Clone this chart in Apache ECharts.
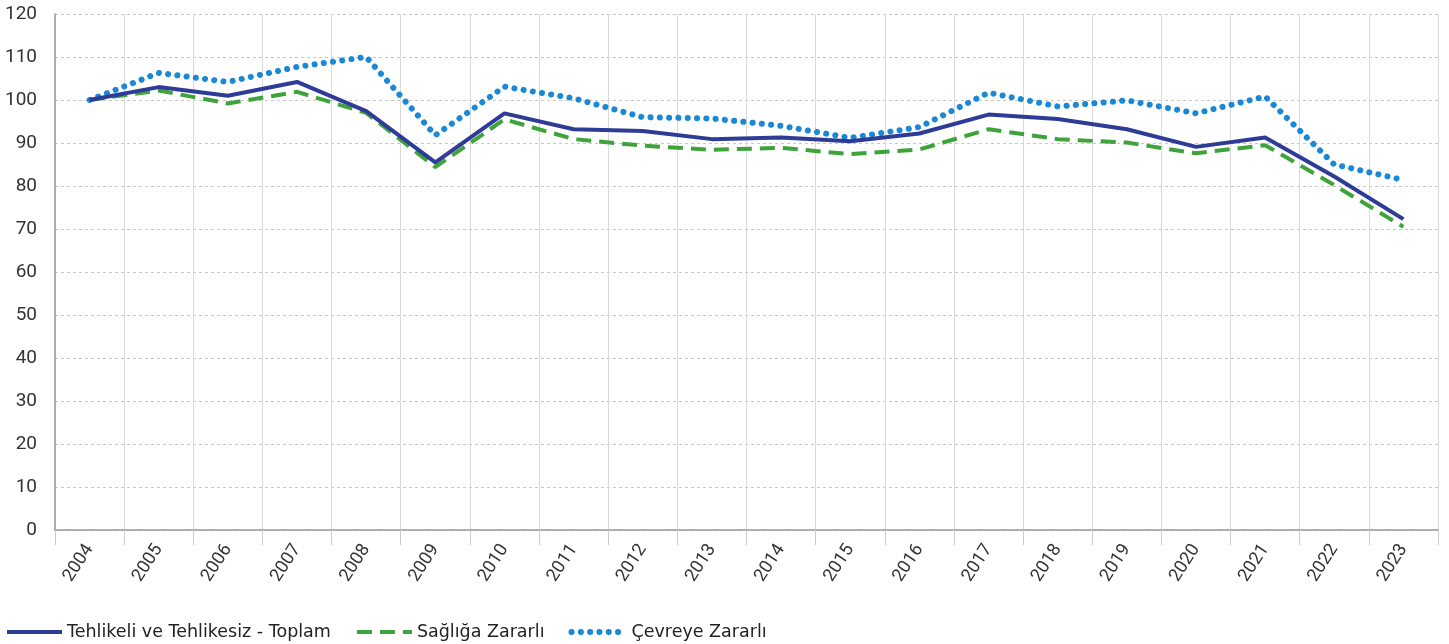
<!DOCTYPE html>
<html><head><meta charset="utf-8">
<script src="https://cdn.jsdelivr.net/npm/echarts@6/dist/echarts.min.js"></script>
<style>html,body{margin:0;padding:0;background:#fff}#c{width:1449px;height:644px}</style>
</head><body><div id="c"></div>
<script>
const years = ['2004','2005','2006','2007','2008','2009','2010','2011','2012','2013','2014','2015','2016','2017','2018','2019','2020','2021','2022','2023'];
const toplam = [100,103,101,104.2,97.4,85.5,96.9,93.2,92.8,90.9,91.3,90.4,92.2,96.6,95.6,93.2,89.1,91.3,82.2,72.3];
const saglik = [100,102.2,99.2,101.9,97,84.4,95.5,90.9,89.4,88.4,88.9,87.4,88.5,93.2,90.9,90.1,87.6,89.5,80.2,70.5];
const cevre  = [100,106.3,104.2,107.7,110,91.8,103.1,100.4,96,95.7,94,91.2,93.7,101.7,98.5,99.9,96.9,100.8,85,81.4];
const seriesNames = ['Tehlikeli ve Tehlikesiz - Toplam','Sağlığa Zararlı','Çevreye Zararlı'];

const colors = ['#2e3b97','#3fa33b','#1b88d6'];
const chart = echarts.init(document.getElementById('c'));
const axisFont = 'Roboto,"Liberation Sans",sans-serif';
chart.setOption({
  animation:false,
  grid:{left:55,right:11,top:14,bottom:114,containLabel:false},
  legend:{
    left:0, bottom:-2, itemWidth:55, itemHeight:14, itemGap:24, padding:5,
    textStyle:{fontFamily:'"DejaVu Sans",sans-serif',fontSize:17.5,color:'#222'},
    itemStyle:{color:'rgba(0,0,0,0)',borderWidth:0,opacity:0},
    data:[
      {name:seriesNames[0],lineStyle:{width:4}},
      {name:seriesNames[1],lineStyle:{width:4}},
      {name:seriesNames[2],lineStyle:{width:6}}
    ]
  },
  xAxis:{
    type:'category', data:years, boundaryGap:true,
    axisLine:{lineStyle:{color:'#999',width:1.5}},
    axisTick:{show:true,length:15,lineStyle:{color:'#ccc'}},
    axisLabel:{rotate:57,margin:16,fontFamily:axisFont,fontSize:18,color:'#333'},
    splitLine:{show:true,lineStyle:{color:'#dadada',width:1}}
  },
  yAxis:{
    type:'value', min:0, max:120, interval:10,
    axisLine:{show:true,lineStyle:{color:'#999',width:1.5}},
    axisTick:{show:false},
    axisLabel:{fontFamily:axisFont,fontSize:19,color:'#333',margin:18},
    splitLine:{lineStyle:{color:'#c8c8c8',type:[3,3]}}
  },
  series:[
    {name:seriesNames[0],type:'line',data:toplam,symbol:'none',z:3,
     lineStyle:{color:colors[0],width:4},itemStyle:{color:colors[0]}},
    {name:seriesNames[1],type:'line',data:saglik,symbol:'none',z:2,
     lineStyle:{color:colors[1],width:4,type:[15,8]},itemStyle:{color:colors[1]}},
    {name:seriesNames[2],type:'line',data:cevre,symbol:'none',z:1,
     lineStyle:{color:colors[2],width:6,type:[0.1,9.2],cap:'round'},itemStyle:{color:colors[2]}}
  ]
});
</script></body></html>
